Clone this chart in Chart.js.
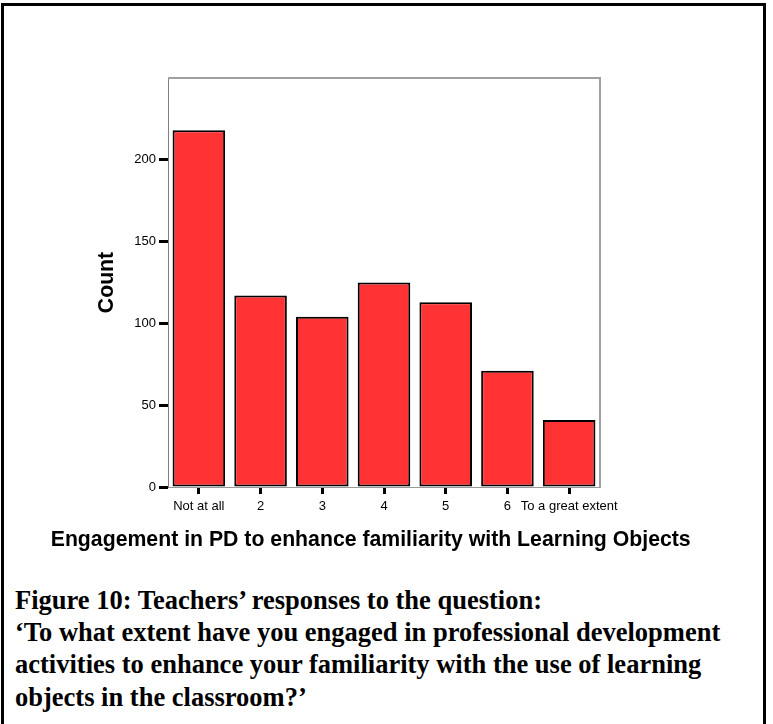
<!DOCTYPE html>
<html>
<head>
<meta charset="utf-8">
<script src="https://cdn.jsdelivr.net/npm/chart.js@4.4.1/dist/chart.umd.min.js"></script>
<style>
  html, body { margin: 0; padding: 0; background: #fff; width: 773px; height: 724px; overflow: hidden; }
  .frame { position: absolute; left: 1px; top: 3px; width: 765px; height: 800px; box-sizing: border-box; border: 3px solid #000; border-bottom: none; }
  #chart { position: absolute; left: 0; top: 0; }
  .caption { position: absolute; left: 15px; top: 584px; font: bold 26.5px 'Liberation Serif', 'Times New Roman', serif; line-height: 32.2px; color: #000; white-space: nowrap; }
</style>
</head>
<body>
<div class="frame"></div>
<canvas id="chart" width="773" height="560"></canvas>
<div class="caption">
  Figure 10: Teachers’ responses to the question:<br>
  ‘To what extent have you engaged in professional development<br>
  activities to enhance your familiarity with the use of learning<br>
  objects in the classroom?’
</div>

<script>
// Data
const categories = ['Not at all', '2', '3', '4', '5', '6', 'To a great extent'];
const counts = [218, 117, 104, 125, 113, 71, 41];
const yTicks = [0, 50, 100, 150, 200];

const xTitle = 'Engagement in PD to enhance familiarity with Learning Objects';
const yTitle = 'Count';

const SANS = "'Liberation Sans', Arial, sans-serif";

// gray frame around the plot (top + right sides)
const plotFrame = {
  id: 'plotFrame',
  afterDraw(chart) {
    const { ctx, chartArea: a } = chart;
    ctx.save();
    ctx.strokeStyle = '#a0a0a0';
    ctx.lineWidth = 2;
    ctx.beginPath();
    ctx.moveTo(a.left, a.top);
    ctx.lineTo(a.right, a.top);
    ctx.lineTo(a.right, a.bottom);
    ctx.stroke();
    ctx.restore();
  }
};

// x axis title is wider than the plot, so it is drawn here
const bottomTitle = {
  id: 'bottomTitle',
  afterDraw(chart) {
    const ctx = chart.ctx;
    ctx.save();
    ctx.font = 'bold 21.25px ' + SANS;
    ctx.fillStyle = '#000';
    ctx.textAlign = 'center';
    ctx.textBaseline = 'alphabetic';
    ctx.fillText(xTitle, 370.7, 546);
    ctx.restore();
  }
};

new Chart(document.getElementById('chart'), {
  type: 'bar',
  data: {
    labels: categories,
    datasets: [{
      data: counts,
      backgroundColor: '#ff3333',
      borderColor: '#000',
      borderWidth: 2,
      borderSkipped: false,
      categoryPercentage: 1,
      barPercentage: 0.852
    }]
  },
  options: {
    responsive: false,
    animation: false,
    events: [],
    layout: { padding: { left: 0, top: 78, right: 173, bottom: 0 } },
    plugins: { legend: { display: false }, tooltip: { enabled: false } },
    scales: {
      x: {
        offset: true,
        afterFit: s => { s.height = 73; },
        grid: { offset: false, drawOnChartArea: false, drawTicks: true, tickLength: 7, tickWidth: 3, tickColor: '#000' },
        border: { display: true, color: '#999', width: 1 },
        ticks: { font: { family: SANS, size: 13 }, color: '#000', padding: 5, maxRotation: 0, autoSkip: false }
      },
      y: {
        min: 0,
        max: 250,
        afterFit: s => { s.width = 168; },
        afterBuildTicks: s => { s.ticks = s.ticks.filter(t => yTicks.includes(t.value)); },
        grid: { drawOnChartArea: false, drawTicks: true, tickLength: 9, tickWidth: 3, tickColor: '#000' },
        border: { display: true, color: '#808080', width: 1 },
        ticks: { stepSize: 50, font: { family: SANS, size: 13 }, color: '#000', padding: 3 },
        title: {
          display: true,
          text: yTitle,
          color: '#000',
          font: { family: SANS, size: 21.25, weight: 'bold' },
          padding: { top: 94.75, bottom: 0 }
        }
      }
    }
  },
  plugins: [plotFrame, bottomTitle]
});
</script>
</body>
</html>
